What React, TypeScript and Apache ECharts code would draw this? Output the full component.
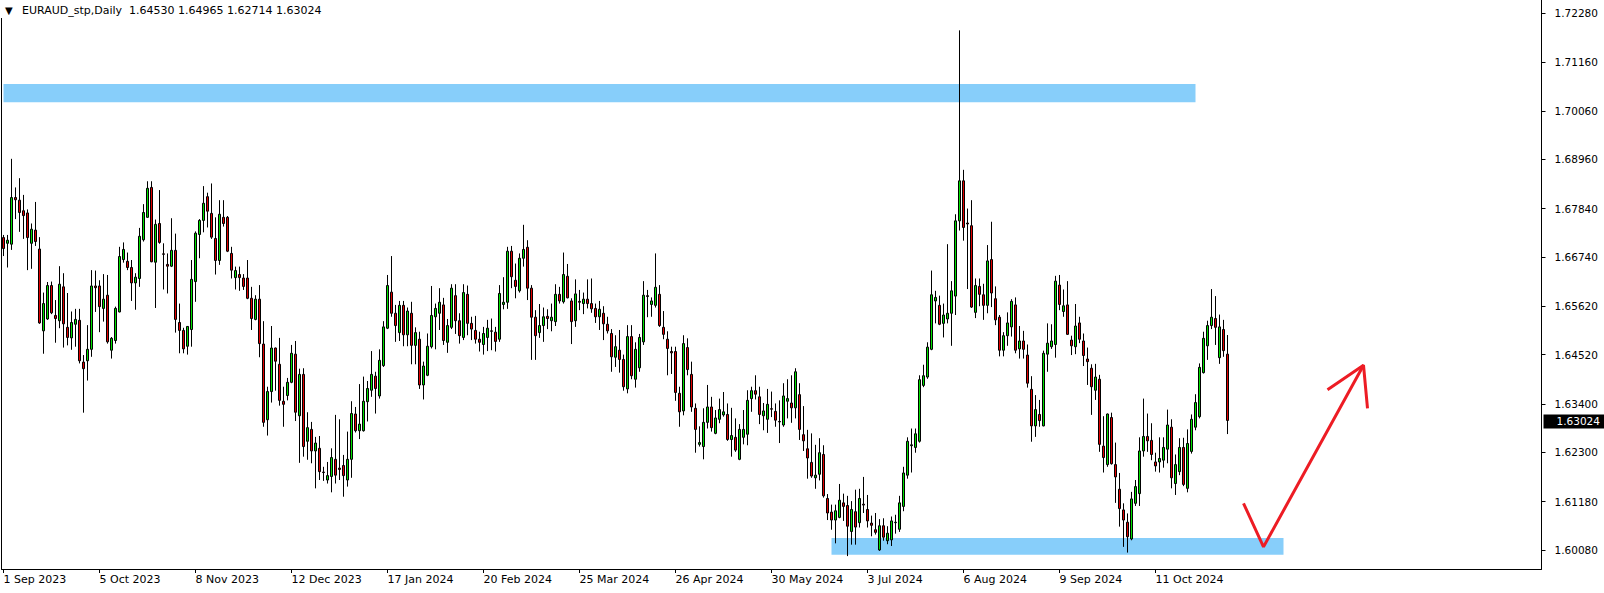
import React, { useEffect, useRef } from "react";
import * as echarts from "echarts";

// ---- Daily EURAUD candles, 1 Sep 2023 .. 6 Nov 2024 (trading days) ----
const openPrices = [
  1.6718, 1.6705, 1.6703, 1.6809, 1.6803, 1.6779, 1.6774, 1.6705, 1.6735, 1.6692,
  1.6506, 1.6533, 1.6609, 1.6541, 1.6529, 1.6606, 1.6514, 1.6490, 1.6521, 1.6530,
  1.6435, 1.6438, 1.6464, 1.6608, 1.6608, 1.6557, 1.6587, 1.6462, 1.6484, 1.6549,
  1.6668, 1.6664, 1.6650, 1.6615, 1.6625, 1.6713, 1.6764, 1.6832, 1.6662, 1.6750,
  1.6681, 1.6657, 1.6653, 1.6689, 1.6525, 1.6507, 1.6471, 1.6509, 1.6618, 1.6725,
  1.6757, 1.6811, 1.6773, 1.6716, 1.6666, 1.6764, 1.6764, 1.6682, 1.6627, 1.6634,
  1.6626, 1.6626, 1.6580, 1.6532, 1.6578, 1.6476, 1.6304, 1.6368, 1.6467, 1.6430,
  1.6346, 1.6359, 1.6389, 1.6453, 1.6313, 1.6407, 1.6255, 1.6282, 1.6233, 1.6239,
  1.6185, 1.6167, 1.6175, 1.6214, 1.6194, 1.6200, 1.6167, 1.6214, 1.6317, 1.6279,
  1.6279, 1.6345, 1.6371, 1.6403, 1.6358, 1.6427, 1.6512, 1.6594, 1.6546, 1.6502,
  1.6564, 1.6497, 1.6546, 1.6473, 1.6487, 1.6383, 1.6405, 1.6470, 1.6538, 1.6546,
  1.6565, 1.6480, 1.6514, 1.6586, 1.6529, 1.6491, 1.6589, 1.6523, 1.6507, 1.6487,
  1.6475, 1.6491, 1.6506, 1.6503, 1.6487, 1.6566, 1.6571, 1.6687, 1.6621, 1.6597,
  1.6671, 1.6696, 1.6603, 1.6537, 1.6502, 1.6518, 1.6539, 1.6529, 1.6527, 1.6589,
  1.6572, 1.6630, 1.6574, 1.6529, 1.6573, 1.6568, 1.6578, 1.6568, 1.6557, 1.6538,
  1.6546, 1.6521, 1.6500, 1.6446, 1.6462, 1.6441, 1.6374, 1.6493, 1.6396, 1.6422,
  1.6481, 1.6586, 1.6566, 1.6564, 1.6589, 1.6514, 1.6487, 1.6459, 1.6459, 1.6364,
  1.6324, 1.6468, 1.6407, 1.6330, 1.6248, 1.6243, 1.6298, 1.6333, 1.6273, 1.6305,
  1.6315, 1.6316, 1.6259, 1.6264, 1.6214, 1.6264, 1.6271, 1.6352, 1.6370, 1.6356,
  1.6313, 1.6305, 1.6329, 1.6323, 1.6300, 1.6292, 1.6346, 1.6342, 1.6331, 1.6361,
  1.6270, 1.6238, 1.6207, 1.6172, 1.6180, 1.6225, 1.6125, 1.6094, 1.6076, 1.6082,
  1.6115, 1.6109, 1.6050, 1.6095, 1.6070, 1.6112, 1.6100, 1.6069, 1.6054, 1.6008,
  1.6063, 1.6029, 1.6031, 1.6070, 1.6055, 1.6107, 1.6178, 1.6245, 1.6241, 1.6255,
  1.6382, 1.6401, 1.6464, 1.6574, 1.6564, 1.6523, 1.6533, 1.6546, 1.6585, 1.6756,
  1.6847, 1.6751, 1.6745, 1.6548, 1.6607, 1.6588, 1.6564, 1.6668, 1.6579, 1.6537,
  1.6462, 1.6495, 1.6515, 1.6565, 1.6465, 1.6483, 1.6451, 1.6373, 1.6290, 1.6316,
  1.6290, 1.6453, 1.6470, 1.6475, 1.6610, 1.6550, 1.6565, 1.6485, 1.6470, 1.6524,
  1.6483, 1.6442, 1.6421, 1.6371, 1.6396, 1.6244, 1.6202, 1.6309, 1.6202, 1.6146,
  1.6099, 1.6071, 1.6033, 1.6114, 1.6136, 1.6233, 1.6266, 1.6257, 1.6208, 1.6208,
  1.6212, 1.6237, 1.6287, 1.6159, 1.6186, 1.6241, 1.6148, 1.6232, 1.6287, 1.6311,
  1.6411, 1.6472, 1.6518, 1.6534, 1.6445, 1.6509, 1.64530,
];

const highPrices = [
  1.6724, 1.6724, 1.6897, 1.6832, 1.6853, 1.6815, 1.6782, 1.6750, 1.6799, 1.6719,
  1.6593, 1.6617, 1.6618, 1.6576, 1.6653, 1.6637, 1.6592, 1.6550, 1.6556, 1.6556,
  1.6451, 1.6519, 1.6644, 1.6643, 1.6621, 1.6635, 1.6633, 1.6492, 1.6561, 1.6697,
  1.6707, 1.6684, 1.6667, 1.6637, 1.6740, 1.6794, 1.6846, 1.6846, 1.6759, 1.6826,
  1.6705, 1.6682, 1.6762, 1.6727, 1.6568, 1.6513, 1.6517, 1.6667, 1.6732, 1.6760,
  1.6835, 1.6820, 1.6841, 1.6764, 1.6803, 1.6803, 1.6767, 1.6697, 1.6652, 1.6652,
  1.6635, 1.6667, 1.6606, 1.6587, 1.6610, 1.6528, 1.6379, 1.6517, 1.6468, 1.6490,
  1.6379, 1.6399, 1.6474, 1.6483, 1.6420, 1.6421, 1.6321, 1.6299, 1.6265, 1.6267,
  1.6197, 1.6208, 1.6239, 1.6315, 1.6305, 1.6224, 1.6277, 1.6346, 1.6333, 1.6385,
  1.6402, 1.6392, 1.6460, 1.6413, 1.6464, 1.6528, 1.6633, 1.6676, 1.6565, 1.6574,
  1.6574, 1.6559, 1.6572, 1.6514, 1.6504, 1.6436, 1.6500, 1.6608, 1.6568, 1.6603,
  1.6581, 1.6533, 1.6612, 1.6612, 1.6546, 1.6612, 1.6609, 1.6538, 1.6540, 1.6504,
  1.6515, 1.6531, 1.6534, 1.6515, 1.6610, 1.6628, 1.6697, 1.6699, 1.6659, 1.6682,
  1.6747, 1.6712, 1.6610, 1.6553, 1.6567, 1.6559, 1.6555, 1.6568, 1.6612, 1.6606,
  1.6684, 1.6658, 1.6580, 1.6623, 1.6599, 1.6593, 1.6623, 1.6625, 1.6568, 1.6574,
  1.6562, 1.6538, 1.6510, 1.6496, 1.6508, 1.6452, 1.6519, 1.6519, 1.6480, 1.6499,
  1.6619, 1.6599, 1.6582, 1.6682, 1.6610, 1.6551, 1.6505, 1.6470, 1.6470, 1.6379,
  1.6496, 1.6489, 1.6436, 1.6341, 1.6289, 1.6330, 1.6383, 1.6356, 1.6326, 1.6352,
  1.6367, 1.6341, 1.6331, 1.6307, 1.6294, 1.6326, 1.6371, 1.6379, 1.6405, 1.6379,
  1.6342, 1.6374, 1.6368, 1.6341, 1.6348, 1.6387, 1.6396, 1.6405, 1.6421, 1.6387,
  1.6335, 1.6281, 1.6273, 1.6247, 1.6262, 1.6246, 1.6135, 1.6111, 1.6111, 1.6158,
  1.6136, 1.6131, 1.6119, 1.6145, 1.6147, 1.6174, 1.6133, 1.6086, 1.6092, 1.6078,
  1.6080, 1.6062, 1.6084, 1.6088, 1.6131, 1.6197, 1.6264, 1.6284, 1.6284, 1.6405,
  1.6429, 1.6480, 1.6643, 1.6597, 1.6586, 1.6568, 1.6703, 1.6619, 1.6771, 1.7189,
  1.6872, 1.6784, 1.6803, 1.6625, 1.6625, 1.6613, 1.6701, 1.6754, 1.6607, 1.6542,
  1.6503, 1.6548, 1.6578, 1.6582, 1.6517, 1.6506, 1.6475, 1.6403, 1.6360, 1.6349,
  1.6461, 1.6523, 1.6521, 1.6631, 1.6633, 1.6600, 1.6619, 1.6495, 1.6567, 1.6538,
  1.6500, 1.6468, 1.6430, 1.6431, 1.6406, 1.6312, 1.6318, 1.6320, 1.6252, 1.6183,
  1.6114, 1.6091, 1.6140, 1.6167, 1.6264, 1.6352, 1.6318, 1.6296, 1.6229, 1.6264,
  1.6264, 1.6327, 1.6305, 1.6225, 1.6262, 1.6263, 1.6282, 1.6316, 1.6362, 1.6432,
  1.6504, 1.6529, 1.6601, 1.6585, 1.6543, 1.6531, 1.64965,
];

const lowPrices = [
  1.6676, 1.6650, 1.6690, 1.6760, 1.6731, 1.6715, 1.6644, 1.6647, 1.6699, 1.6522,
  1.6454, 1.6531, 1.6544, 1.6479, 1.6512, 1.6468, 1.6473, 1.6463, 1.6470, 1.6432,
  1.6320, 1.6393, 1.6447, 1.6549, 1.6503, 1.6527, 1.6477, 1.6443, 1.6477, 1.6548,
  1.6661, 1.6644, 1.6574, 1.6554, 1.6606, 1.6709, 1.6763, 1.6662, 1.6558, 1.6704,
  1.6600, 1.6591, 1.6651, 1.6502, 1.6455, 1.6455, 1.6452, 1.6470, 1.6572, 1.6671,
  1.6730, 1.6741, 1.6715, 1.6634, 1.6656, 1.6743, 1.6685, 1.6625, 1.6600, 1.6597,
  1.6599, 1.6578, 1.6508, 1.6530, 1.6446, 1.6288, 1.6268, 1.6343, 1.6370, 1.6336,
  1.6288, 1.6348, 1.6387, 1.6301, 1.6206, 1.6220, 1.6213, 1.6205, 1.6148, 1.6167,
  1.6165, 1.6159, 1.6139, 1.6159, 1.6167, 1.6129, 1.6152, 1.6172, 1.6275, 1.6260,
  1.6277, 1.6300, 1.6356, 1.6318, 1.6352, 1.6424, 1.6510, 1.6538, 1.6481, 1.6483,
  1.6471, 1.6471, 1.6430, 1.6430, 1.6374, 1.6350, 1.6403, 1.6466, 1.6464, 1.6508,
  1.6474, 1.6456, 1.6510, 1.6499, 1.6477, 1.6485, 1.6496, 1.6485, 1.6477, 1.6459,
  1.6452, 1.6460, 1.6462, 1.6459, 1.6481, 1.6555, 1.6556, 1.6603, 1.6580, 1.6593,
  1.6652, 1.6576, 1.6440, 1.6440, 1.6490, 1.6481, 1.6510, 1.6505, 1.6517, 1.6568,
  1.6568, 1.6580, 1.6476, 1.6515, 1.6553, 1.6544, 1.6557, 1.6547, 1.6524, 1.6508,
  1.6485, 1.6500, 1.6413, 1.6424, 1.6411, 1.6370, 1.6364, 1.6396, 1.6377, 1.6413,
  1.6474, 1.6537, 1.6538, 1.6559, 1.6515, 1.6487, 1.6405, 1.6408, 1.6347, 1.6288,
  1.6314, 1.6405, 1.6322, 1.6229, 1.6243, 1.6214, 1.6284, 1.6277, 1.6271, 1.6296,
  1.6311, 1.6256, 1.6220, 1.6231, 1.6212, 1.6248, 1.6246, 1.6322, 1.6350, 1.6294,
  1.6280, 1.6274, 1.6310, 1.6288, 1.6251, 1.6288, 1.6307, 1.6297, 1.6307, 1.6258,
  1.6233, 1.6170, 1.6172, 1.6147, 1.6166, 1.6127, 1.6076, 1.6054, 1.6023, 1.6080,
  1.6074, 1.5994, 1.6020, 1.6020, 1.6059, 1.6092, 1.6059, 1.6039, 1.6043, 1.6006,
  1.6029, 1.6021, 1.6017, 1.6045, 1.6049, 1.6096, 1.6170, 1.6184, 1.6229, 1.6252,
  1.6378, 1.6397, 1.6462, 1.6523, 1.6519, 1.6491, 1.6523, 1.6472, 1.6542, 1.6734,
  1.6711, 1.6601, 1.6558, 1.6535, 1.6562, 1.6531, 1.6546, 1.6560, 1.6519, 1.6448,
  1.6448, 1.6472, 1.6493, 1.6455, 1.6443, 1.6443, 1.6377, 1.6254, 1.6265, 1.6288,
  1.6289, 1.6413, 1.6465, 1.6445, 1.6553, 1.6538, 1.6497, 1.6451, 1.6453, 1.6478,
  1.6426, 1.6383, 1.6315, 1.6349, 1.6231, 1.6184, 1.6197, 1.6202, 1.6115, 1.6061,
  1.6015, 1.6002, 1.6030, 1.6108, 1.6108, 1.6220, 1.6231, 1.6212, 1.6186, 1.6184,
  1.6195, 1.6205, 1.6148, 1.6133, 1.6178, 1.6153, 1.6139, 1.6227, 1.6280, 1.6307,
  1.6409, 1.6440, 1.6510, 1.6474, 1.6431, 1.6447, 1.62714,
];

const closePrices = [
  1.6693, 1.6712, 1.6809, 1.6804, 1.6775, 1.6768, 1.6718, 1.6737, 1.6709, 1.6524,
  1.6568, 1.6609, 1.6547, 1.6534, 1.6612, 1.6522, 1.6491, 1.6525, 1.6532, 1.6438,
  1.6420, 1.6464, 1.6608, 1.6604, 1.6561, 1.6578, 1.6481, 1.6489, 1.6557, 1.6675,
  1.6691, 1.6650, 1.6615, 1.6628, 1.6721, 1.6775, 1.6830, 1.6663, 1.6748, 1.6707,
  1.6680, 1.6653, 1.6689, 1.6532, 1.6507, 1.6465, 1.6516, 1.6623, 1.6728, 1.6757,
  1.6796, 1.6778, 1.6719, 1.6666, 1.6771, 1.6750, 1.6687, 1.6644, 1.6643, 1.6627,
  1.6607, 1.6580, 1.6534, 1.6578, 1.6477, 1.6298, 1.6368, 1.6467, 1.6437, 1.6348,
  1.6339, 1.6389, 1.6455, 1.6321, 1.6407, 1.6243, 1.6286, 1.6233, 1.6251, 1.6186,
  1.6184, 1.6177, 1.6218, 1.6178, 1.6191, 1.6177, 1.6214, 1.6318, 1.6279, 1.6294,
  1.6346, 1.6375, 1.6407, 1.6375, 1.6439, 1.6515, 1.6609, 1.6546, 1.6518, 1.6564,
  1.6497, 1.6551, 1.6473, 1.6502, 1.6383, 1.6426, 1.6471, 1.6541, 1.6557, 1.6571,
  1.6484, 1.6518, 1.6603, 1.6529, 1.6495, 1.6593, 1.6523, 1.6510, 1.6487, 1.6480,
  1.6500, 1.6512, 1.6505, 1.6482, 1.6591, 1.6571, 1.6687, 1.6629, 1.6607, 1.6671,
  1.6691, 1.6603, 1.6537, 1.6495, 1.6518, 1.6538, 1.6534, 1.6537, 1.6589, 1.6574,
  1.6634, 1.6581, 1.6527, 1.6590, 1.6571, 1.6578, 1.6568, 1.6556, 1.6538, 1.6555,
  1.6522, 1.6506, 1.6447, 1.6470, 1.6441, 1.6379, 1.6493, 1.6404, 1.6464, 1.6491,
  1.6587, 1.6584, 1.6574, 1.6605, 1.6518, 1.6498, 1.6466, 1.6456, 1.6366, 1.6322,
  1.6477, 1.6418, 1.6333, 1.6282, 1.6252, 1.6298, 1.6333, 1.6286, 1.6308, 1.6327,
  1.6322, 1.6259, 1.6268, 1.6235, 1.6282, 1.6282, 1.6348, 1.6370, 1.6362, 1.6316,
  1.6324, 1.6339, 1.6328, 1.6303, 1.6299, 1.6358, 1.6352, 1.6331, 1.6413, 1.6282,
  1.6256, 1.6217, 1.6176, 1.6178, 1.6229, 1.6131, 1.6092, 1.6076, 1.6097, 1.6121,
  1.6107, 1.6062, 1.6100, 1.6060, 1.6125, 1.6110, 1.6074, 1.6064, 1.6048, 1.6063,
  1.6037, 1.6046, 1.6074, 1.6071, 1.6115, 1.6183, 1.6255, 1.6247, 1.6272, 1.6395,
  1.6404, 1.6469, 1.6588, 1.6582, 1.6521, 1.6542, 1.6546, 1.6597, 1.6756, 1.6847,
  1.6741, 1.6749, 1.6560, 1.6609, 1.6589, 1.6564, 1.6665, 1.6592, 1.6531, 1.6462,
  1.6495, 1.6524, 1.6573, 1.6462, 1.6483, 1.6464, 1.6387, 1.6290, 1.6327, 1.6302,
  1.6455, 1.6478, 1.6483, 1.6619, 1.6566, 1.6563, 1.6498, 1.6472, 1.6517, 1.6487,
  1.6450, 1.6436, 1.6379, 1.6401, 1.6248, 1.6218, 1.6317, 1.6204, 1.6174, 1.6102,
  1.6076, 1.6038, 1.6124, 1.6152, 1.6233, 1.6266, 1.6256, 1.6225, 1.6199, 1.6216,
  1.6241, 1.6292, 1.6172, 1.6202, 1.6241, 1.6157, 1.6250, 1.6305, 1.6343, 1.6423,
  1.6489, 1.6518, 1.6537, 1.6514, 1.6515, 1.6461, 1.63024,
];

// ---- axes ----
const dateTickLabels = [
  "1 Sep 2023", "5 Oct 2023", "8 Nov 2023", "12 Dec 2023", "17 Jan 2024",
  "20 Feb 2024", "25 Mar 2024", "26 Apr 2024", "30 May 2024", "3 Jul 2024",
  "6 Aug 2024", "9 Sep 2024", "11 Oct 2024",
];
const BARS_PER_DATE_LABEL = 24;
const TOTAL_SLOTS = 385; // visible bar slots incl. empty future space
const priceTicks = [
  1.6008, 1.6118, 1.623, 1.634, 1.6452, 1.6562, 1.6674, 1.6784, 1.6896, 1.7006, 1.7116, 1.7228,
];
const PRICE_MIN = 1.59647;
const PRICE_MAX = 1.7258;

// ---- drawings ----
const resistanceZone = { fromBar: 0, toBar: 298, top: 1.7067, bottom: 1.70255 };
const supportZone = { fromBar: 207, toBar: 320, top: 1.6035, bottom: 1.5997 };
const arrowBody = [[310, 1.6114], [315, 1.6015], [340, 1.6428]];
const arrowHead = [[331, 1.6372], [340, 1.6428], [341, 1.633]];
const symbolName = "EURAUD_stp,Daily";

const FONT = "DejaVu Sans";
const BULL = "#00e100";
const BEAR = "#e00000";
const ZONE = "#87cefa";
const ARROW = "#ed1c24";

export default function App() {
  const ref = useRef<HTMLDivElement>(null);

  useEffect(() => {
    document.body.style.margin = "0";
    const el = ref.current;
    if (!el) return;
    const chart = echarts.init(el, null, { renderer: "svg" });

    const n = openPrices.length;
    const candles = openPrices.map((o, i) => [o, closePrices[i], lowPrices[i], highPrices[i]]);
    const slots = Array.from({ length: TOTAL_SLOTS }, (_, i) => String(i));
    const isDateTick = (idx: number) =>
      idx % BARS_PER_DATE_LABEL === 0 && idx / BARS_PER_DATE_LABEL < dateTickLabels.length && idx < n;
    const last = n - 1;
    const fmt = (v: number) => v.toFixed(5);

    const option: any = {
      animation: false,
      backgroundColor: "#ffffff",
      title: {
        left: 0,
        top: 0,
        z: 20,
        padding: [5, 5, 2, 5],
        backgroundColor: "#ffffff",
        text: `{tri|▼}{t|${symbolName}  ${fmt(openPrices[last])} ${fmt(highPrices[last])} ${fmt(
          lowPrices[last]
        )} ${fmt(closePrices[last])}}`,
        textStyle: {
          fontFamily: FONT,
          fontSize: 11,
          fontWeight: "normal",
          color: "#000",
          rich: {
            tri: { fontSize: 10, width: 17, fontFamily: FONT, color: "#000" },
            t: { fontSize: 11, fontFamily: FONT, color: "#000" },
          },
        },
      },
      grid: { left: 1.5, right: 62.5, top: 0, bottom: 24, containLabel: false },
      xAxis: {
        type: "category",
        data: slots,
        boundaryGap: true,
        axisLine: { show: true, lineStyle: { color: "#000", width: 1 } },
        axisTick: {
          show: true,
          alignWithLabel: true,
          interval: (idx: number) => isDateTick(idx),
          length: 4,
          lineStyle: { color: "#000" },
        },
        axisLabel: {
          interval: (idx: number) => isDateTick(idx),
          formatter: (_v: string, idx: number) => dateTickLabels[Math.round(idx / BARS_PER_DATE_LABEL)] ?? "",
          align: "left",
          margin: 5,
          fontFamily: FONT,
          fontSize: 11,
          color: "#000",
        },
        splitLine: { show: false },
      },
      yAxis: [
        {
          type: "value",
          position: "right",
          min: PRICE_MIN,
          max: PRICE_MAX,
          scale: true,
          splitLine: { show: false },
          axisLine: { show: true, lineStyle: { color: "#000", width: 1 } },
          axisTick: { show: true, length: 4, customValues: priceTicks, lineStyle: { color: "#000" } },
          axisLabel: {
            customValues: priceTicks,
            formatter: (v: number) => fmt(v),
            margin: 13,
            fontFamily: FONT,
            fontSize: 10.5,
            color: "#000",
          },
        },
        {
          type: "value",
          position: "left",
          min: PRICE_MIN,
          max: PRICE_MAX,
          scale: true,
          splitLine: { show: false },
          axisLine: { show: true, onZero: false, lineStyle: { color: "#000", width: 1 } },
          axisTick: { show: false },
          axisLabel: { show: false },
        },
      ],
      series: [
        {
          type: "candlestick",
          yAxisIndex: 0,
          data: candles,
          barWidth: 2,
          clip: false,
          itemStyle: {
            color: BULL,
            color0: BEAR,
            borderColor: "#000",
            borderColor0: "#000",
            borderWidth: 1,
          },
          markArea: {
            silent: true,
            itemStyle: { color: ZONE, opacity: 1 },
            data: [
              [
                { xAxis: resistanceZone.fromBar, yAxis: resistanceZone.top },
                { xAxis: resistanceZone.toBar, yAxis: resistanceZone.bottom },
              ],
              [
                { xAxis: supportZone.fromBar, yAxis: supportZone.top },
                { xAxis: supportZone.toBar, yAxis: supportZone.bottom },
              ],
            ],
          },
        },
        {
          type: "line",
          data: arrowBody,
          symbol: "none",
          silent: true,
          z: 5,
          lineStyle: { color: ARROW, width: 3 },
          markLine: {
            silent: true,
            symbol: "none",
            lineStyle: { color: "rgba(0,0,0,0)", width: 0 },
            data: [{ yAxis: closePrices[last] }],
            label: {
              show: true,
              position: "end",
              distance: 2,
              formatter: fmt(closePrices[last]),
              backgroundColor: "#000",
              color: "#fff",
              opacity: 1,
              fontFamily: FONT,
              fontSize: 10.5,
              lineHeight: 12,
              padding: [1, 8, 1, 13],
            },
          },
        },
        {
          type: "line",
          data: arrowHead,
          symbol: "none",
          silent: true,
          z: 5,
          lineStyle: { color: ARROW, width: 3 },
        },
      ],
    };

    chart.setOption(option);
    return () => chart.dispose();
  }, []);

  return <div ref={ref} style={{ width: 1604, height: 593 }} />;
}
